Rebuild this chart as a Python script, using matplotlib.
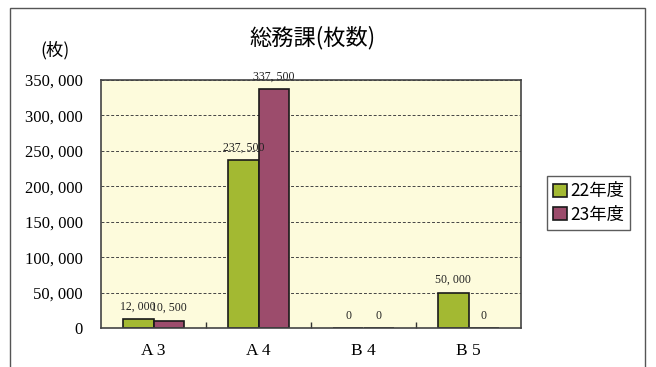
import matplotlib
matplotlib.use("Agg")
import matplotlib.pyplot as plt
from matplotlib.patches import Rectangle
from matplotlib.ticker import FuncFormatter
import numpy as np

plt.rcParams['font.family'] = ['Noto Sans CJK JP', 'DejaVu Sans']

categories = ["A 3", "A 4", "B 4", "B 5"]
series_names = ["22年度", "23年度"]
values_22 = [12000, 237500, 0, 50000]
values_23 = [10500, 337500, 0, 0]
colors = ["#a3b932", "#9c4c6c"]

fig = plt.figure(figsize=(6.56, 3.67), dpi=100)
fig.patch.set_facecolor("white")
fig.patches.append(Rectangle((10/656, -0.1), (645-10)/656, 1 - 8/367 + 0.1,
                             transform=fig.transFigure, fill=False,
                             edgecolor="#555555", linewidth=1.0))

ax = fig.add_axes([101/656, 1-328/367, 420/656, 248/367])
ax.set_facecolor("#fdfbdc")

x = np.arange(len(categories))
w = 0.29
b1 = ax.bar(x - w/2, values_22, w, color=colors[0], edgecolor="#1a1a1a", linewidth=1.2, label=series_names[0])
b2 = ax.bar(x + w/2, values_23, w, color=colors[1], edgecolor="#1a1a1a", linewidth=1.2, label=series_names[1])

serif = ["Liberation Serif", "DejaVu Serif"]
def fmt(v):
    return "0" if v == 0 else f"{v:,}".replace(",", ", ")
for bars, vals in ((b1, values_22), (b2, values_23)):
    for rect, v in zip(bars, vals):
        ax.text(rect.get_x() + rect.get_width()/2, v + 9000, fmt(v),
                ha="center", va="bottom", fontsize=8.5, family=serif,
                color="#222222", clip_on=False)

ax.set_xlim(-0.5, len(categories) - 0.5)
ax.set_ylim(0, 350000)
ax.set_yticks(np.arange(0, 350001, 50000))
ax.yaxis.set_major_formatter(FuncFormatter(lambda v, p: fmt(int(v))))
for lab in ax.get_yticklabels():
    lab.set_family(serif)
    lab.set_fontsize(12)
ax.tick_params(axis="y", length=0, pad=13)
ax.set_xticks(x)
ax.set_xticklabels(categories, family=serif, fontsize=12.5)
ax.tick_params(axis="x", length=0, pad=11)
ax.set_xticks(np.arange(0.5, len(categories) - 1, 1), minor=True)
ax.tick_params(axis="x", which="minor", direction="in", length=4, width=1, color="#333333")

ax.grid(axis="y", linestyle=(0, (3, 2)), color="#444444", linewidth=0.7)
ax.set_axisbelow(True)
for s in ax.spines.values():
    s.set_color("#444444")
    s.set_linewidth(1.2)

fig.text(313/656, 1-38/367, "総務課(枚数)", ha="center", va="center", fontsize=16)
fig.text(55/656, 1-50/367, "(枚)", ha="center", va="center", fontsize=12.5)

leg = ax.legend(loc="center left", bbox_to_anchor=(538/656, 1-203/367),
                bbox_transform=fig.transFigure, frameon=True, fancybox=False,
                fontsize=12.5, handlelength=0.8, handleheight=0.8, handletextpad=0.2,
                borderpad=0.35, labelspacing=0.3)
leg.get_frame().set_edgecolor("#333333")
leg.get_frame().set_linewidth(1.0)

fig.savefig("out.png", dpi=100)
